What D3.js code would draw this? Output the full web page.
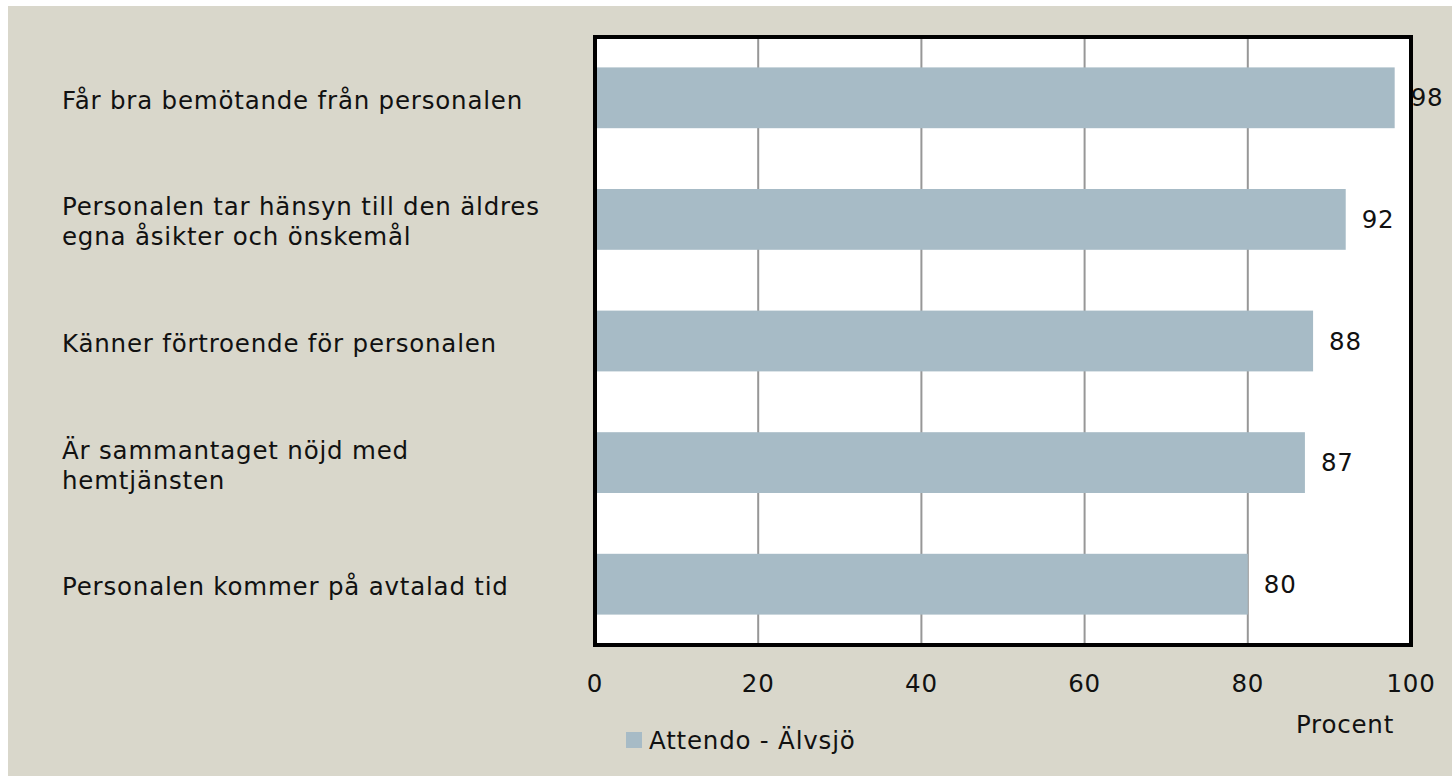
<!DOCTYPE html>
<html>
<head>
<meta charset="utf-8">
<script src="https://cdn.jsdelivr.net/npm/d3@7"></script>
<style>
  body { margin: 0; background: #fff; }
  text { font-family: "DejaVu Sans", sans-serif; fill: #111; letter-spacing: 0.8px; }
</style>
</head>
<body>
<script>
var categories = [
  ["Får bra bemötande från personalen"],
  ["Personalen tar hänsyn till den äldres", "egna åsikter och önskemål"],
  ["Känner förtroende för personalen"],
  ["Är sammantaget nöjd med", "hemtjänsten"],
  ["Personalen kommer på avtalad tid"]
];
var values = [98, 92, 88, 87, 80];
var tickValues = [0, 20, 40, 60, 80, 100];
var seriesName = "Attendo - Älvsjö";
var axisTitle = "Procent";

var W = 1452, H = 776;
var fs = 24.5;
var svg = d3.select("body").append("svg").attr("width", W).attr("height", H);

// beige background panel
svg.append("rect")
  .attr("x", 8).attr("y", 6)
  .attr("width", W - 8).attr("height", H - 6)
  .attr("fill", "#d9d7cb");

var plot = { left: 595, right: 1411, top: 37, bottom: 645 };

var x = d3.scaleLinear().domain([0, 100]).range([plot.left, plot.right]);
var y = d3.scaleBand().domain(d3.range(values.length)).range([plot.top, plot.bottom]).paddingInner(0.5).paddingOuter(0.25);

svg.append("rect")
  .attr("x", plot.left).attr("y", plot.top)
  .attr("width", plot.right - plot.left).attr("height", plot.bottom - plot.top)
  .attr("fill", "#fff");

// gridlines
svg.selectAll("line.grid")
.data(tickValues.slice(1, -1))
.enter().append("line")
  .attr("class", "grid")
  .attr("x1", function(d){ return x(d); })
  .attr("x2", function(d){ return x(d); })
  .attr("y1", plot.top).attr("y2", plot.bottom)
  .attr("stroke", "#979797")
  .attr("stroke-width", 2);

// bars
svg.selectAll("rect.bar")
.data(values)
.enter().append("rect")
  .attr("class", "bar")
  .attr("x", x(0))
  .attr("y", function(d, i){ return y(i); })
  .attr("width", function(d){ return x(d) - x(0); })
  .attr("height", y.bandwidth())
  .attr("fill", "#a7bbc6");

// frame
svg.append("rect")
  .attr("x", plot.left).attr("y", plot.top)
  .attr("width", plot.right - plot.left).attr("height", plot.bottom - plot.top)
  .attr("fill", "none")
  .attr("stroke", "#000")
  .attr("stroke-width", 4);

// value labels
svg.selectAll("text.val")
.data(values)
.enter().append("text")
  .attr("class", "val")
  .attr("x", function(d){ return x(d) + 16; })
  .attr("y", function(d, i){ return y(i) + y.bandwidth() / 2; })
  .attr("dominant-baseline", "central")
  .attr("font-size", fs)
  .text(function(d){ return d; });

// category labels
var cat = svg.selectAll("text.cat")
.data(categories)
.enter().append("text")
  .attr("class", "cat")
  .attr("font-size", fs)
  .attr("dominant-baseline", "central");

cat.selectAll("tspan")
.data(function(d, i){ return d.map(function(s, j){ return { s: s, j: j, n: d.length, i: i }; }); })
.enter().append("tspan")
  .attr("x", 62)
  .attr("y", function(d){ return y(d.i) + y.bandwidth() / 2 + 2 + (d.j - (d.n - 1) / 2) * 30; })
  .text(function(d){ return d.s; });

// x tick labels
svg.selectAll("text.tick")
.data(tickValues)
.enter().append("text")
  .attr("class", "tick")
  .attr("x", function(d){ return x(d); })
  .attr("y", 683)
  .attr("text-anchor", "middle")
  .attr("dominant-baseline", "central")
  .attr("font-size", fs)
  .text(function(d){ return d; });

svg.append("text")
  .attr("x", 1345).attr("y", 724)
  .attr("text-anchor", "middle")
  .attr("dominant-baseline", "central")
  .attr("font-size", fs)
  .text(axisTitle);

// legend
svg.append("rect")
  .attr("x", 626).attr("y", 732)
  .attr("width", 16).attr("height", 16)
  .attr("fill", "#a7bbc6");

svg.append("text")
  .attr("x", 649).attr("y", 740)
  .attr("dominant-baseline", "central")
  .attr("font-size", fs)
  .text(seriesName);
</script>
</body>
</html>
